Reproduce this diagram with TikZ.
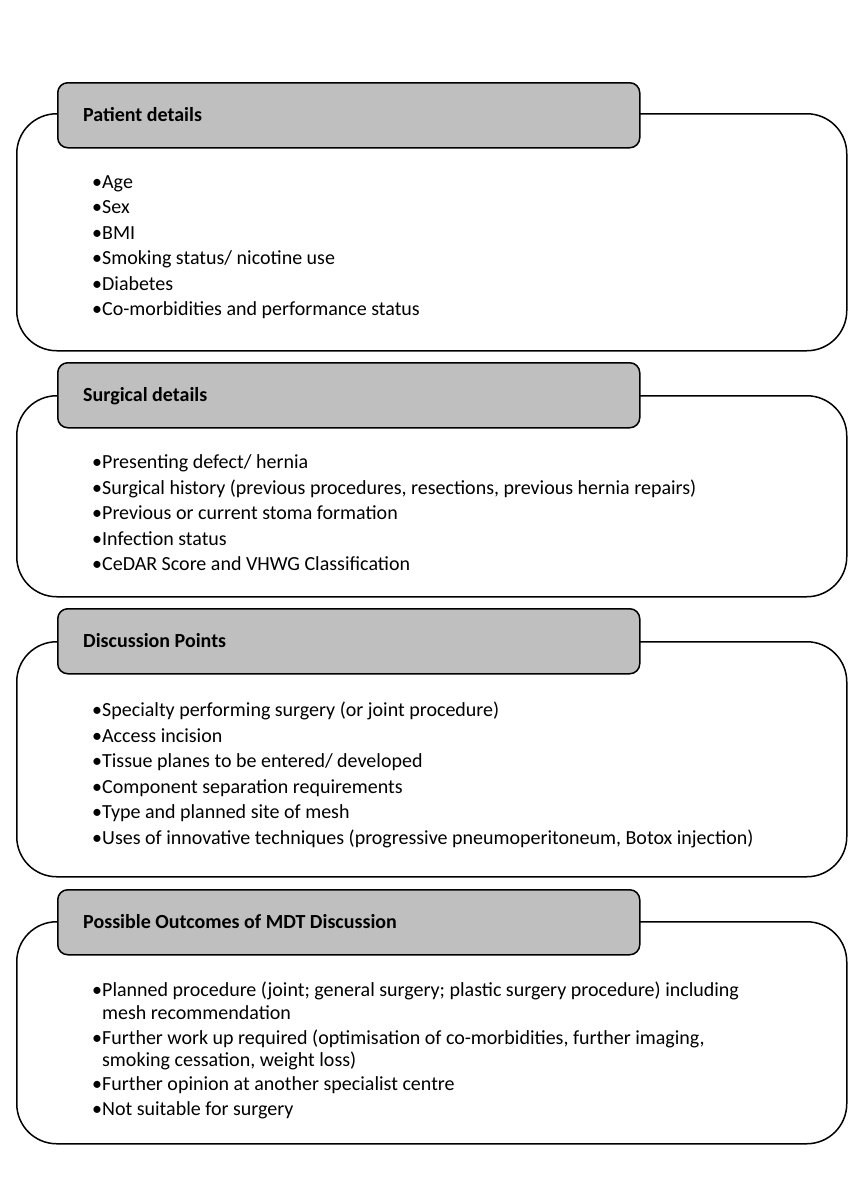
\documentclass[tikz,border=0pt]{standalone}
\usepackage{fontspec}
\setmainfont{Carlito}
\begin{document}
\begin{tikzpicture}[x=1pt,y=-1pt,
  outerbox/.style={draw=black,line width=1.5pt,rounded corners=40pt,fill=white,anchor=north west,minimum width=830pt,inner sep=0pt},
  headbox/.style={draw=black,line width=1.5pt,rounded corners=10pt,fill=headgray,anchor=north west,minimum width=582pt,minimum height=65pt,inner sep=0pt},
  headtext/.style={anchor=base west,inner sep=0pt,font=\fontsize{20}{24}\selectfont\bfseries},
  itemtext/.style={anchor=base west,inner sep=0pt,font=\fontsize{20}{24}\selectfont}]
\definecolor{headgray}{HTML}{BFBFBF}
\useasboundingbox (0,0) rectangle (847,1200);
\newcommand{\bul}{•}
\newcommand{\ind}{\phantom{•}}
% box 1
\node[outerbox,minimum height=237pt] (o1) at (16,113) {};
\node[headbox] (h1) at (57,82) {};
\node[headtext] (t1) at (83,121) {Patient details};
\node[itemtext] (a1) at (92,188.5) {\bul Age};
\node[itemtext] (a2) at (92,213.9) {\bul Sex};
\node[itemtext] (a3) at (92,239.3) {\bul BMI};
\node[itemtext] (a4) at (92,264.7) {\bul Smoking status/ nicotine use};
\node[itemtext] (a5) at (92,290.1) {\bul Diabetes};
\node[itemtext] (a6) at (92,315.5) {\bul Co-morbidities and performance status};
% box 2
\node[outerbox,minimum height=201pt] (o2) at (16,395) {};
\node[headbox] (h2) at (57,362) {};
\node[headtext] (t2) at (83,401.5) {Surgical details};
\node[itemtext] (b1) at (92,468.5) {\bul Presenting defect/ hernia};
\node[itemtext] (b2) at (92,494) {\bul Surgical history (previous procedures, resections, previous hernia repairs)};
\node[itemtext] (b3) at (92,519.5) {\bul Previous or current stoma formation};
\node[itemtext] (b4) at (92,545) {\bul Infection status};
\node[itemtext] (b5) at (92,570.5) {\bul CeDAR Score and VHWG Classification};
% box 3
\node[outerbox,minimum height=235pt] (o3) at (16,641) {};
\node[headbox] (h3) at (57,608) {};
\node[headtext] (t3) at (83,647.5) {Discussion Points};
\node[itemtext] (c1) at (92,716.5) {\bul Specialty performing surgery (or joint procedure)};
\node[itemtext] (c2) at (92,742) {\bul Access incision};
\node[itemtext] (c3) at (92,767.5) {\bul Tissue planes to be entered/ developed};
\node[itemtext] (c4) at (92,793) {\bul Component separation requirements};
\node[itemtext] (c5) at (92,818.5) {\bul Type and planned site of mesh};
\node[itemtext] (c6) at (92,844) {\bul Uses of innovative techniques (progressive pneumoperitoneum, Botox injection)};
% box 4
\node[outerbox,minimum height=222pt] (o4) at (16,921) {};
\node[headbox] (h4) at (57,889) {};
\node[headtext] (t4) at (83,928) {Possible Outcomes of MDT Discussion};
\node[itemtext] (d1) at (92,996) {\bul Planned procedure (joint; general surgery; plastic surgery procedure) including};
\node[itemtext] (d1b) at (92,1019) {\ind mesh recommendation};
\node[itemtext] (d2) at (92,1044) {\bul Further work up required (optimisation of co-morbidities, further imaging,};
\node[itemtext] (d2b) at (92,1066) {\ind smoking cessation, weight loss)};
\node[itemtext] (d3) at (92,1090) {\bul Further opinion at another specialist centre};
\node[itemtext] (d4) at (92,1115) {\bul Not suitable for surgery};
\end{tikzpicture}
\end{document}
